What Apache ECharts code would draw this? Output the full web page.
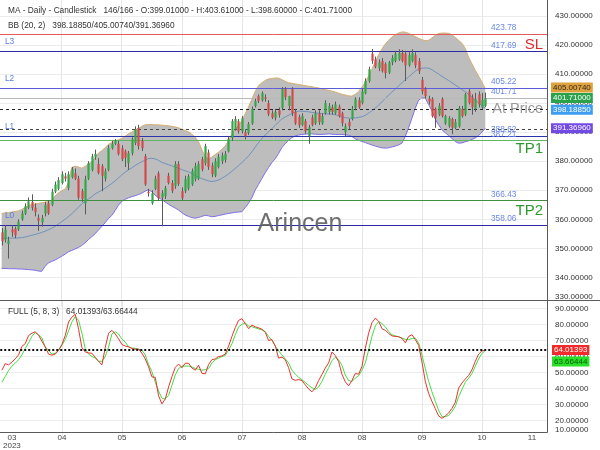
<!DOCTYPE html>
<html><head><meta charset="utf-8">
<script src="https://cdn.jsdelivr.net/npm/echarts@6.0.0/dist/echarts.min.js"></script>
<style>html,body{margin:0;padding:0;background:#fff}#c{width:600px;height:450px}</style>
</head><body><div id="c"></div>
<script>
// ---------- DATA ----------
const openV = [355.5,353,351.5,356.5,356.8,356.6,360,362,364,366, 364,360.5,359,362,365.5,365,369.5,370.5,372.5,374.8, 370.8,374.5,375.8,374,369.7,365.5,374,377,381.5,379, 378.3,374,377,384.5,386,386,384.5,383.4,379.3,382.8, 386.2,391.4,387,381.7,369.5,365.5,370.5,375.8,367.5,368, 375,372.5,371.4,379,369.7,369.7,370.7,372,373.8,374, 380.7,379.3,383,378.5,375,378,380,380.5,383.4,388, 391,393.8,390.3,390,389.7,393,399,402.4,401,402, 400,396.5,395,397.5,398.3,404.8,399,404.8,397,395.2, 392.5,393.8,388.6,395,393,396.5,393,396.5,397,398.5, 396.5,398.8,396.5,390,393.5,394.5,398.3,401,400,403.4, 407.6,417,415,412,414.5,413.4,410.5,414,414.5,415, 417.2,417,413,414.5,416.5,414.5,408,404.8,401.5,401.4, 398,396,401.4,393,392,394.5,391.5,392,398,396, 404,402,398,403,398.5,399.01];
const highV = [357,358,354,358,357.5,360,363,365.5,367.5,368.6, 365.5,361.7,361.5,366,366.5,370.5,373,374.5,376.5,376, 376.5,378,377.5,375,370.5,375,380,382.5,384,381, 379,377.5,385.5,387,387.6,387,385.5,384,383.5,388.2, 392,392.5,388,382.5,370.5,370,375,376.5,370,371.5, 376,373.5,380,380,371,375,375.5,377.5,379.5,380, 381.5,386,384,379.5,381,382.5,383,383.5,388.5,394.5, 395.5,394.5,395.5,391,393.5,398.8,401.5,403,404,403, 401,397.5,398,398.5,405.5,405.5,402.5,405.5,398,396, 396.5,394.5,392.5,396,397.5,397.5,396.5,401,400,399.5, 400.5,399.5,397,393,394.5,399,402,402,405,408.5, 412.5,418.6,416,415,415.5,414,414.5,416.5,418,418.5, 418.3,418,417.5,418.5,417.5,415.5,409,405.5,402.5,402, 398.5,400,402,396,395.5,395,394.5,399,399,403.5, 404.8,403,403.5,404,403.5,403.61];
const lowV = [351,352,346.5,354,353.5,356,359.5,361.5,363.5,363, 361,356,357.5,361,361.5,364.5,369,370,372,373, 370,374,373.5,366.8,366,361.7,373.5,376.5,380.5,375.5, 369.7,373,376.5,384,385.5,382,380,378,377,382, 385.5,384,383.5,371.5,367.8,365,370,366.5,357.6,367, 372,369,370.5,371.5,366.5,369,370,371.5,373,373.5, 376.5,378.5,377,374.5,374.5,377.5,379,379.5,383,387, 390.5,389.5,389.5,387.5,389,392.5,398.5,400,400.5,400.5, 395.5,394.5,394,395,397.5,401,397.5,395.5,392.5,391.5, 392,389.5,386,392,392.5,392.5,392.5,396,396,396, 396,395,392,388.5,391,394,397.5,398,399.5,403, 407,413.5,412,411,410.5,408.5,410,413,414,414.5, 414,407.6,412.5,414,412,410,403,401.5,399.5,395, 391.5,395.5,395,392.5,391.5,389.3,391,391.5,395,395.5, 399.5,396,397,398.5,398,398.6];
const closeV = [352.5,356.5,352.7,355.5,354.5,359.2,362,364.5,366.2,364, 362.5,359.5,360.5,365,362,369.5,372,373.5,375.5,374, 375.5,377.2,374,367.5,367,373.8,379.3,381.7,382.5,376, 375,376.5,384.5,386,387,382.5,380.7,381.2,382.8,387.6, 391,385.2,384.5,372,369,369,374,367.2,369,370.7, 372.5,369.8,379,372.2,367.3,373.8,374.8,376.6,378.3,379, 377.2,385.2,378,375.5,380,381.5,382,382.5,387.6,393.8, 394.5,390.3,394.8,388.6,392.8,398,400.7,400.7,403.4,401.5, 396.2,395,397,396,404.8,402,402.4,396.5,393,392.4, 395.5,390.3,391.7,392.5,396.5,393.5,395.5,400,399,397, 399.5,395.5,393.1,392,392,398,401.4,398.5,404,407.6, 411.7,414.5,412.5,414,411,410.3,414,415.5,417,417.2, 414.5,413,416.5,417.2,413,411,404,402.4,400.5,395.5, 394.8,399,395.5,395.5,394.8,391.5,393.5,398.3,395.5,403, 400,398.5,401.5,399.5,401,401.71];

const bbUpper = [362.0,362.2,362.3,362.5,362.7,362.9,363.4,364.0,364.6,365.1, 365.3,365.5,365.7,365.9,366.1,366.6,368.0,369.1,369.8,370.4, 372.5,377.8,378.3,378.0,377.6,378.2,379.0,379.8,381.2,382.8, 383.6,384.6,385.8,386.4,386.9,387.4,387.8,388.6,389.4,390.0, 390.7,391.3,392.0,392.5,392.6,392.6,392.5,392.5,392.4,392.3, 392.2,392.0,391.8,391.5,391.0,390.6,390.1,389.3,388.3,386.8, 384.0,381.6,380.8,381.4,382.3,383.1,384.1,385.2,387.0,389.4, 391.0,392.4,393.9,396.3,398.6,401.3,404.0,406.0,407.0,407.8, 408.3,408.5,408.6,408.6,408.1,407.5,407.0,406.8,406.6,406.4, 406.2,406.0,405.8,405.6,405.4,405.2,404.9,404.6,404.4,404.1, 403.8,403.4,403.0,402.8,402.5,402.4,403.0,404.0,405.5,407.1, 409.3,411.6,414.2,416.6,418.6,420.3,421.6,422.7,423.5,424.1, 424.5,424.4,424.0,423.4,422.9,422.3,421.8,421.5,421.6,422.4, 423.3,423.9,424.1,424.1,424.0,423.5,422.6,421.6,420.6,418.8, 415.8,413.5,411.3,409.3,407.2,405.0074];
const bbMid = [353.5,353.5,353.5,353.5,353.6,353.6,353.7,353.9,354.2,354.5, 354.8,355.1,355.5,355.9,356.4,356.9,357.6,358.4,359.2,360.0, 360.9,361.9,363.0,364.1,365.3,366.2,367.0,367.8,368.7,369.4, 370.0,370.7,371.5,372.3,373.2,374.2,375.3,376.2,377.0,377.7, 378.5,379.2,379.8,380.4,380.9,381.0,380.8,380.3,379.6,379.2, 378.8,378.4,378.0,377.6,377.1,376.7,376.3,375.8,375.1,374.5, 374.0,373.6,373.2,373.0,373.2,373.5,374.1,374.8,375.6,376.5, 377.5,378.5,379.5,380.6,381.8,383.2,384.8,386.3,387.8,389.0, 390.1,391.2,392.3,393.5,394.5,395.2,395.8,396.4,396.9,397.2, 397.2,397.1,397.0,396.8,396.6,396.5,396.4,396.3,396.3,396.2, 396.0,395.7,395.3,395.0,394.8,394.8,394.9,395.1,395.3,395.8, 396.5,397.4,398.3,399.3,400.4,401.6,402.7,403.8,404.8,405.9, 407.0,408.0,409.0,410.0,411.0,411.7,412.0,412.1,412.0,411.5, 410.7,410.0,409.2,408.5,407.8,407.0,406.2,405.5,404.6,403.9, 403.0,402.1,401.0,400.0,399.1,398.1885];
const bbLower = [343.1,343.1,343.0,343.0,343.0,342.9,342.9,342.8,342.7,342.6, 342.5,342.2,342.1,343.8,345.0,345.5,346.0,346.6,347.3,348.0, 348.8,349.3,349.8,350.3,351.0,351.9,353.0,354.0,355.0,356.3, 357.5,358.8,360.3,361.3,363.0,364.8,366.2,366.9,367.4,367.8, 368.1,368.5,369.0,369.7,370.2,369.5,368.3,367.5,366.8,366.0, 365.2,364.5,363.9,363.2,362.3,361.5,361.0,360.6,360.4,360.6, 361.0,361.4,361.2,360.9,361.0,361.3,361.5,361.8,362.0,362.2, 362.4,362.5,362.6,364.0,365.5,367.4,370.0,372.0,374.0,376.0, 377.8,379.5,380.8,382.6,384.7,386.0,387.2,388.1,388.7,389.0, 389.2,389.3,389.4,389.4,389.3,389.2,389.2,389.3,389.4,389.3, 389.2,389.2,389.2,389.1,388.9,388.5,387.7,387.2,386.8,386.4, 386.0,385.6,385.2,384.9,384.6,384.5,384.6,384.9,385.2,385.6, 386.2,388.5,391.5,394.8,398.2,401.0,401.8,401.7,399.5,397.3, 394.5,392.5,390.8,389.8,388.8,387.8,386.8,386.2,386.3,386.7, 387.0,387.5,388.0,388.8,390.0,391.3696];

const stochK = [51.5,55.5,54.8,56.5,58.5,61,66.3,68,73,74.5, 75.4,73.3,69.5,66,61.5,60.8,61.5,63.8,67.5,73, 81.5,84.5,86.3,77,65.5,62.8,62.2,62,59.5,57, 54.8,65.5,74.5,76.3,74,71,67.5,66.5,66,65, 64.5,64.7,62,58.5,53.5,47.3,47,35.5,30.5,33.5, 41,47.5,53.2,55.3,53,55.8,55.8,52.8,51.5,54.6, 49.5,49.2,55,58,58.5,60,60.3,61.5,66.5,72.5, 78,82.5,83.5,80.5,77.3,79.5,78.5,77.8,77,75, 70,70.5,66.5,59,59.6,58,53,46,45.2,45.6, 45,42.3,39.8,38,40.5,45,48.8,52.8,56,62.8, 60.6,56.8,49,44.2,41.8,45,49.4,49,53.8,65, 74.5,81,83.8,82,77.3,76.3,74.4,72.8,72.5,72.3, 71.3,68.5,72.5,73.5,70.5,67,56.5,44.5,37,32, 27.5,23,21.5,23,24.8,27.7,31.5,40.3,43.5,46, 48.2,51.8,57,61.5,63.5,64.01393];
const stochD = [44,47.5,51.3,54,55.8,58,61,65,68.5,72.5, 74.8,73.5,71.5,66,63.8,61.5,62,64,67,70.5, 76,81.5,84.8,82.5,74.5,65,61.5,60,59,57, 57,60,66,74,75.4,74,70.8,69,66,65.2, 65,64.5,64,61,55,50.5,44,38.5,34,33.5, 35.8,42,48.5,52.5,54,54,54,53.5,52.5,52, 51.5,51.8,52.5,56,58,59,60,60.6,64,68, 73.5,78.5,80,80.8,79,78.5,77.8,77.2,76.5,75.5, 72.5,70,66.5,63.5,61,58.5,56,51.5,49,47, 45.5,43.8,42,40.5,39.5,41,44.5,49,53,57.5, 59.5,58,54.5,48.5,45,44.5,46.5,48,51.5,56, 64,72.5,79,81.7,80.5,78.5,75.5,73.5,72.8,72.3, 71.5,70.6,70.5,71.2,71.5,68.5,61,52.5,44.5,38, 32,26.5,22.5,22.5,23.3,25.8,29,35,39.5,44, 46.5,49.5,54,58.5,62,63.66444];

const slotCount = 164;
const monthIdx = [3,18,36,54,72,90,108,126,144,159];
const monthLbl = ['03','04','05','06','07','08','08','09','10','11'];
const yearLbl = '2023';
const vGridIdx = [18,36,54,72,90,108,126,144];

const levelVals = [423.78, 417.69, 405.22, 401.71, 398.0, 391.0, 388.62, 387.21, 366.43, 358.06];
const levelNames = {417.69:'L3', 405.22:'L2', 388.62:'L1', 358.06:'L0'};
const levelNumbered = [423.78, 417.69, 405.22, 401.71, 388.62, 387.21, 366.43, 358.06];
const levelTags = [['SL',423.78],['At Price',398.0],['TP1',387.21],['TP2',366.43]];
const priceTags = [405.0074, 401.71, 398.1885, 391.3696];
const oscTags = [64.01393, 63.66444];
const oscLevel = 64.01393;

const titleMain = 'MA - Daily - Candlestick\u00a0\u00a0\u00a0146/166 - O:399.01000 - H:403.61000 - L:398.60000 - C:401.71000';
const titleBB = 'BB (20, 2)\u00a0\u00a0\u00a0398.18850/405.00740/391.36960';
const titleOsc = 'FULL (5, 8, 3)\u00a0\u00a0\u00a064.01393/63.66444';
const watermark = 'Arincen';

// ---------- CHART ----------
const FONT = "'Liberation Sans', Arial, sans-serif";
const cats = Array.from({length: slotCount}, (_, i) => 'b' + i);
const monthAt = {}; monthIdx.forEach((k, j) => monthAt[k] = monthLbl[j]);
const gridAt = {}; vGridIdx.forEach(k => gridAt[k] = true);
const candleData = openV.map((o, i) => [i, o, highV[i], lowV[i], closeV[i]]);
const bandData = bbUpper.map((u, i) => +(u - bbLower[i]).toFixed(4));

const levelStyle = {
  423.78: {color:'#e25a5a', type:'solid'},
  417.69: {color:'#2b2ba3', type:'solid'},
  405.22: {color:'#5c5cd8', type:'solid'},
  401.71: {color:'#b8b8b8', type:'solid'},
  398.0:  {color:'#222222', type:[3,3]},
  391.0:  {color:'#444444', type:[3,3]},
  388.62: {color:'#2b33a8', type:'solid'},
  387.21: {color:'#62b462', type:'solid'},
  366.43: {color:'#3f8f3f', type:'solid'},
  358.06: {color:'#2b2ba3', type:'solid'}
};

const chart = echarts.init(document.getElementById('c'));
const GRID_H = 306.5;
const OSC_TOP = 300, OSC_H = 136.8;
const AX_FS = 8;

function yLabelFmt(step, lowVal) {
  return function (v) {
    if (Math.abs(v / step - Math.round(v / step)) > 1e-6) return '';
    const s = v.toFixed(5);
    return Math.abs(v - lowVal) < 1e-6 ? '{lo|' + s + '}' : s;
  };
}
const vSplit = {show:true, interval:(idx) => !!gridAt[idx], alignWithLabel:true,
  lineStyle:{color:'#e6e6e6', width:1}};

const option = {
  animation: false,
  grid: [
    {left: 0, right: 53, top: 0, height: GRID_H},
    {left: 0, right: 53, top: OSC_TOP, height: OSC_H}
  ],
  xAxis: [
    {type:'category', gridIndex:0, data:cats, boundaryGap:true,
      axisLine:{show:false}, axisTick:{show:false, alignWithLabel:true}, axisLabel:{show:false}, splitLine:vSplit},
    {type:'category', gridIndex:1, data:cats, boundaryGap:true, offset:-4.5,
      axisLine:{show:false}, axisTick:{show:false, alignWithLabel:true}, splitLine:vSplit,
      axisLabel:{show:true, interval:(idx) => monthAt[idx] !== undefined, margin:1.5,
        fontSize:AX_FS, lineHeight:8, color:'#444', fontFamily:FONT,
        formatter:(val, idx) => idx === monthIdx[0] ? monthAt[idx] + '\n' + yearLbl : (monthAt[idx] || '')}}
  ],
  yAxis: [
    {type:'value', gridIndex:0, position:'right', min:330, max:435.47, interval:10,
      axisLine:{show:false}, axisTick:{show:false},
      splitLine:{show:true, showMinLine:false, showMaxLine:false, lineStyle:{color:'#ececec', width:1}},
      axisLabel:{margin:8, fontSize:AX_FS, color:'#333', fontFamily:FONT, formatter:yLabelFmt(10, 330),
        rich:{lo:{padding:[0,0,19,0], fontSize:AX_FS, color:'#333', fontFamily:FONT}}}},
    {type:'value', gridIndex:1, position:'right', min:10, max:95.17, interval:10,
      axisLine:{show:false}, axisTick:{show:false},
      splitLine:{show:true, showMinLine:false, showMaxLine:false, lineStyle:{color:'#ececec', width:1}},
      axisLabel:{margin:8, fontSize:AX_FS, color:'#333', fontFamily:FONT, formatter:yLabelFmt(10, 10),
        rich:{lo:{padding:[0,0,15,0], fontSize:AX_FS, color:'#333', fontFamily:FONT}}}}
  ],
  series: [
    // Bollinger band fill
    {type:'line', xAxisIndex:0, yAxisIndex:0, data:bbLower, stack:'bb', z:1, silent:true, showSymbol:false,
      lineStyle:{opacity:0, width:0}},
    {type:'line', xAxisIndex:0, yAxisIndex:0, data:bandData, stack:'bb', z:1, silent:true, showSymbol:false,
      lineStyle:{color:'#d6ad6e', width:1}, areaStyle:{color:'#bdbdbd', opacity:1}},
    {type:'line', xAxisIndex:0, yAxisIndex:0, data:bbLower, z:2, silent:true, showSymbol:false,
      lineStyle:{color:'#7d6fe6', width:1}},
    {type:'line', xAxisIndex:0, yAxisIndex:0, data:bbMid, z:2, silent:true, showSymbol:false,
      lineStyle:{color:'#5b88bb', width:0.8},
      markLine:{silent:true, symbol:['none','none'], label:{show:false}, animation:false,
        data: levelVals.map(v => ({yAxis: v, lineStyle:{color:levelStyle[v].color, type:levelStyle[v].type, width:1}}))}},
    // candles
    {type:'custom', xAxisIndex:0, yAxisIndex:0, data:candleData, z:5, silent:true,
      encode:{x:0, y:[1,2,3,4]},
      renderItem:function (params, api) {
        const i = api.value(0), o = api.value(1), h = api.value(2), l = api.value(3), c = api.value(4);
        const po = api.coord([i, o]), pc = api.coord([i, c]), ph = api.coord([i, h]), pl = api.coord([i, l]);
        const w = 2.2;
        const x = Math.round(po[0]) + 0.5;
        const up = c >= o;
        const col = up ? '#35a548' : '#d44a4a';
        const top = Math.min(po[1], pc[1]), bot = Math.max(po[1], pc[1]);
        return {type:'group', children:[
          {type:'line', shape:{x1:x, y1:ph[1], x2:x, y2:pl[1]}, style:{stroke:'#5a5a5a', lineWidth:1}},
          {type:'rect', shape:{x:x - w/2, y:top, width:w, height:Math.max(1, bot - top)}, style:{fill:col}}
        ]};
      }},
    // oscillator
    {type:'line', xAxisIndex:1, yAxisIndex:1, data:stochD, z:3, silent:true, showSymbol:false,
      lineStyle:{color:'#44dd44', width:1}},
    {type:'line', xAxisIndex:1, yAxisIndex:1, data:stochK, z:4, silent:true, showSymbol:false,
      lineStyle:{color:'#e8332e', width:1},
      markLine:{silent:true, symbol:['none','none'], label:{show:false}, animation:false,
        data:[{yAxis: oscLevel, lineStyle:{color:'#111', type:[2,2], width:2}}]}}
  ]
};
chart.setOption(option);

// ---------- overlay labels positioned through the axes ----------
const py = v => chart.convertToPixel({yAxisIndex:0}, v);
const oy = v => chart.convertToPixel({yAxisIndex:1}, v);
const g = [];
const txt = (x, y, text, size, fill, align, extra) => Object.assign({type:'text', x, y, z:50,
  style:Object.assign({text, fontSize:size, fontFamily:FONT, fill, align:align || 'left', verticalAlign:'middle'}, extra || {})});

const TITLE_FS = 8.3;
g.push(txt(8, 11, titleMain, TITLE_FS, '#333'));
g.push(txt(8, 26, titleBB, TITLE_FS, '#333'));
g.push(txt(8, 312, titleOsc, TITLE_FS, '#333'));
g.push(txt(300, 224, watermark, 25, 'rgba(95,95,95,0.9)', 'center'));

levelNumbered.forEach(v => g.push(txt(491, py(v) - 6, v.toFixed(2), 8.3, '#6a88e8')));
Object.keys(levelNames).forEach(k => g.push(txt(5, py(+k) - 9.5, levelNames[k], 8.3, '#5d7be0')));
const tagStyle = {'SL':['#e02b2b', 11], 'At Price':['#9a9a9a', 0], 'TP1':['#2e9a2e', 9], 'TP2':['#2e9a2e', 10.5]};
levelTags.forEach(([name, v]) => g.push(txt(543, py(v) + tagStyle[name][1], name, name === 'At Price' ? 14.5 : 15, tagStyle[name][0], 'right')));

const priceTagStyle = [['#dfa13c','#2a2a2a',-1], ['#2aa14b','#ffffff',0], ['#3d9ef2','#ffffff',1.5], ['#7349e6','#ffffff',0]];
priceTags.forEach((v, j) => {
  const [bg, fg, dy] = priceTagStyle[j];
  g.push(txt(551, py(v) + dy, v.toFixed(5), AX_FS, fg, 'left', {backgroundColor:bg, padding:[1,2,1,2]}));
});
const oscTagStyle = [['#f02a2a','#ffffff',0], ['#27e027','#0b5e0b',11]];
oscTags.forEach((v, j) => {
  const [bg, fg, dy] = oscTagStyle[j];
  g.push(txt(552, oy(v) + dy, v.toFixed(5), AX_FS, fg, 'left', {backgroundColor:bg, padding:[1,2,1,2]}));
});

// frame lines
const ln = (x1, y1, x2, y2) => ({type:'line', z:40, shape:{x1, y1, x2, y2}, style:{stroke:'#5a5a5a', lineWidth:1}});
g.push(ln(0, 300.5, 600, 300.5));
g.push(ln(547.5, 0, 547.5, 432.5));
g.push(ln(0, 432.5, 547.5, 432.5));

chart.setOption({graphic: g});
</script></body></html>
